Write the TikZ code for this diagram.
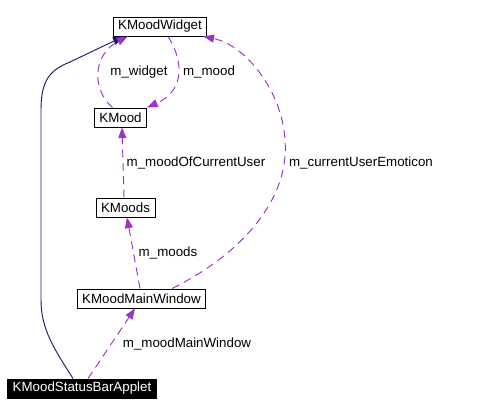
\documentclass[tikz,border=0pt]{standalone}
\usepackage{fontspec}
\setmainfont{Liberation Sans}
\usetikzlibrary{arrows.meta}
\usetikzlibrary{positioning}
\usetikzlibrary{calc}
\definecolor{edgepurple}{RGB}{154,50,205}
\definecolor{edgenavy}{RGB}{25,25,112}

\begin{document}
\begin{tikzpicture}[x=0.75pt,y=-0.75pt,>={Triangle[length=8pt,width=6pt]},line width=0.7pt,font=\fontsize{10}{12}\selectfont]
 \tikzstyle{class node}=[rectangle,draw,inner xsep=3.8pt,inner ysep=0pt,minimum height=14.25pt]
 \tikzstyle{main node}=[class node,fill=black,text=white]
 \tikzstyle{label node}=[inner sep=0pt]
 \tikzset{
 	use edge/.style={dashed,dash pattern=on 6pt off 4pt,draw=edgepurple},
 	base edge/.style={draw=edgenavy}
 }

 \useasboundingbox (0,0) rectangle (478,417);

       \node[class node] (w) at (160,26.5) {KMoodWidget};
       \node[class node] (m) at (120.5,117.5) {KMood};
       \node[class node] (ms) at (125.5,207.5) {KMoods};
       \node[class node] (mw) at (141.5,298.5) {KMoodMainWindow};
       \node[main node] (sb) at (82,388.5) {KMoodStatusBarApplet};

       \node[label node] (lw) at (139,72) {m\_widget};
       \node[label node] (lm) at (209,72) {m\_mood};
       \node[label node] (lcu) at (196,163) {m\_moodOfCurrentUser};
       \node[label node] (le) at (361,163) {m\_currentUserEmoticon};
       \node[label node] (lms) at (168,253) {m\_moods};
       \node[label node] (lmw) at (187,344) {m\_moodMainWindow};

     % base class
     \draw[base edge,->] ($(sb.north)+(-9,0)$) .. controls (55,350) and (41,330) .. (41,300)
          -- (41,110) .. controls (41,80) and (50,70) .. (70,62) -- ($(w.south west)+(11,0)$);

     \draw[use edge,->] ($(m.north)+(-8,0)$) .. controls (92,90) and (92,55) .. ($(w.south west)+(15,0)$);
     \draw[use edge,->] ($(w.south)+(8,0)$) .. controls (186,65) and (182,92) .. ($(m.north east)+(0,0)$);
     \draw[use edge,->] ($(ms.north)+(-1.5,0)$) -- ($(m.south)+(1.5,0)$);
     \draw[use edge,->] ($(mw.north)+(-1.5,0)$) -- ($(ms.south)+(1.5,0)$);
     \draw[use edge,->] ($(mw.north)+(30.5,0)$) .. controls (240,255) and (290,200) .. (285,140)
          .. controls (282,90) and (245,45) .. ($(w.south east)+(-4,0)$);
     \draw[use edge,->] ($(sb.north)+(6,0)$) -- ($(mw.south)+(-6.5,0)$);
 \end{tikzpicture}
\end{document}
